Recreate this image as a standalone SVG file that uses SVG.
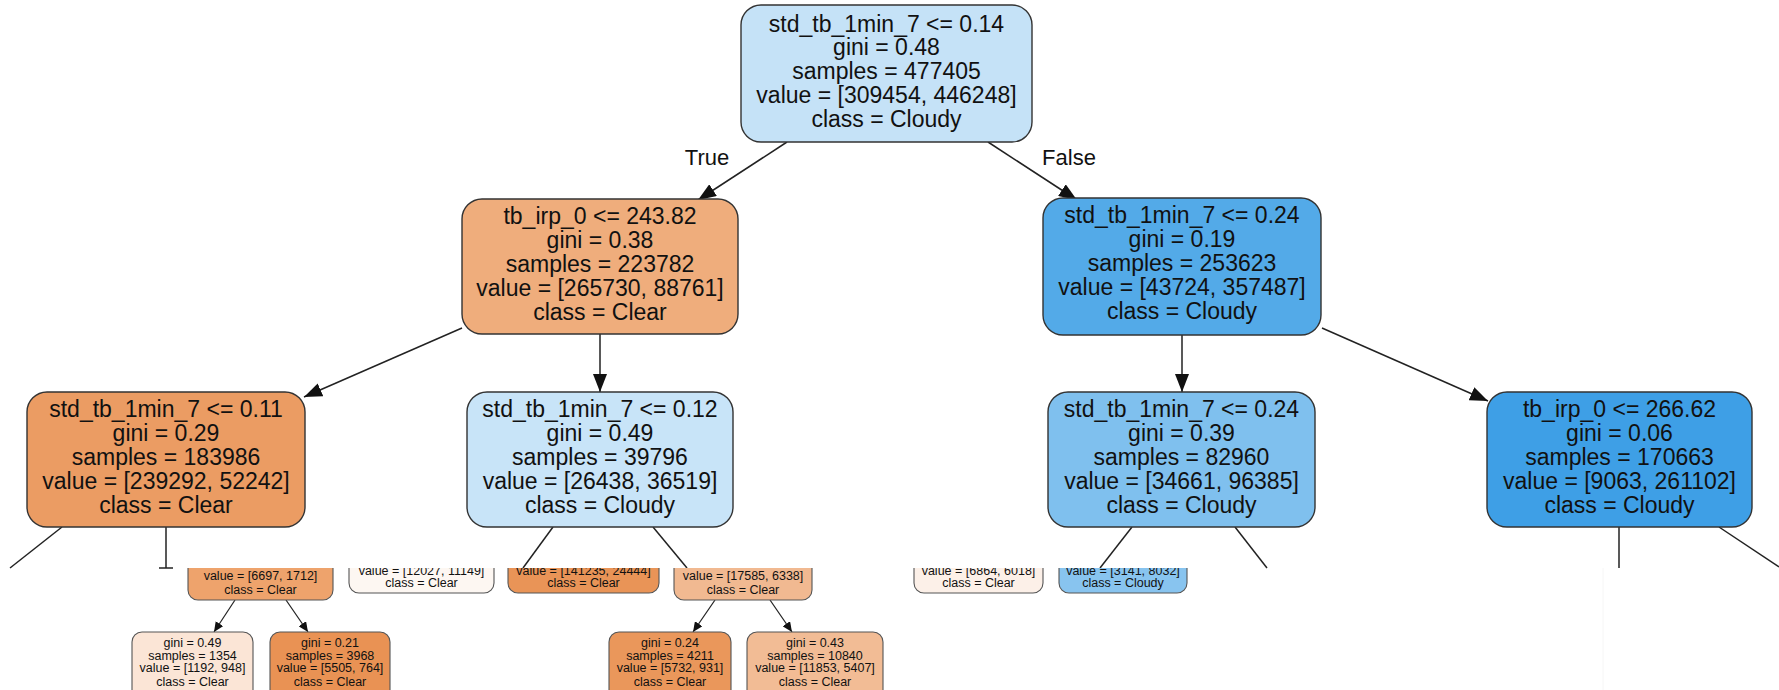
<svg xmlns="http://www.w3.org/2000/svg" width="1779" height="690" viewBox="0 0 1779 690">
<style>
  .n rect{stroke:#333;stroke-width:1.4}
  .s rect{stroke:#555;stroke-width:1.1}
  text{font-family:"Liberation Sans",Arial,sans-serif;text-anchor:middle;fill:#111}
  .n text{font-size:23px}
  .s text{font-size:12.5px}
  .lbl{font-size:22px}
  .e line{stroke:#222;stroke-width:1.5}
  .e .sm{stroke-width:1.2}
</style>
<defs>
  <marker id="ab" markerUnits="userSpaceOnUse" markerWidth="19" markerHeight="14" refX="18" refY="7" orient="auto">
    <path d="M0,0 L18,7 L0,14 z" fill="#111"/>
  </marker>
  <marker id="as" markerUnits="userSpaceOnUse" markerWidth="11" markerHeight="9" refX="10" refY="4.5" orient="auto">
    <path d="M0,0 L10,4.5 L0,9 z" fill="#111"/>
  </marker>
  <clipPath id="cut"><rect x="0" y="568" width="1779" height="122"/></clipPath>
</defs>
<rect width="1779" height="690" fill="#fff"/>

<g class="e" id="edges">
  <line x1="787" y1="142" x2="698" y2="200" marker-end="url(#ab)"/>
  <line x1="988" y1="142" x2="1077" y2="200" marker-end="url(#ab)"/>
  <line x1="462" y1="328" x2="304" y2="397" marker-end="url(#ab)"/>
  <line x1="600" y1="334" x2="600" y2="392" marker-end="url(#ab)"/>
  <line x1="1182" y1="335" x2="1182" y2="392" marker-end="url(#ab)"/>
  <line x1="1322" y1="328" x2="1488" y2="401" marker-end="url(#ab)"/>
  <line x1="62" y1="527" x2="10" y2="568"/>
  <line x1="166" y1="527" x2="166" y2="568"/>
  <line x1="159" y1="568" x2="173" y2="568"/>
  <line x1="553" y1="527" x2="523" y2="568"/>
  <line x1="653" y1="527" x2="687" y2="568"/>
  <line x1="1132" y1="527" x2="1100" y2="568"/>
  <line x1="1235" y1="527" x2="1267" y2="568"/>
  <line x1="1619" y1="527" x2="1619" y2="568"/>
  <line x1="1719" y1="527" x2="1779" y2="567"/>
  <line class="sm" x1="235" y1="600" x2="214" y2="632" marker-end="url(#as)"/>
  <line class="sm" x1="286" y1="600" x2="308" y2="632" marker-end="url(#as)"/>
  <line class="sm" x1="715" y1="600" x2="693" y2="632" marker-end="url(#as)"/>
  <line class="sm" x1="770" y1="600" x2="792" y2="632" marker-end="url(#as)"/>
  <line x1="1603" y1="568" x2="1603" y2="690" style="stroke:#f6f6f6;stroke-width:1"/>
  <text class="lbl" x="707" y="165">True</text>
  <text class="lbl" x="1069" y="165">False</text>
</g>

<g class="n" id="node0">
  <rect x="741" y="5" width="291" height="137" rx="20" fill="#c5e2f7"/>
  <text x="886.5" y="32">std_tb_1min_7 &lt;= 0.14</text>
  <text x="886.5" y="55">gini = 0.48</text>
  <text x="886.5" y="79">samples = 477405</text>
  <text x="886.5" y="103">value = [309454, 446248]</text>
  <text x="886.5" y="127">class = Cloudy</text>
</g>
<g class="n" id="node1">
  <rect x="462" y="199" width="276" height="135" rx="20" fill="#efad7c"/>
  <text x="600" y="224">tb_irp_0 &lt;= 243.82</text>
  <text x="600" y="248">gini = 0.38</text>
  <text x="600" y="272">samples = 223782</text>
  <text x="600" y="296">value = [265730, 88761]</text>
  <text x="600" y="320">class = Clear</text>
</g>
<g class="n" id="node2">
  <rect x="1043" y="198" width="278" height="137" rx="20" fill="#53aae8"/>
  <text x="1182" y="223">std_tb_1min_7 &lt;= 0.24</text>
  <text x="1182" y="247">gini = 0.19</text>
  <text x="1182" y="271">samples = 253623</text>
  <text x="1182" y="295">value = [43724, 357487]</text>
  <text x="1182" y="319">class = Cloudy</text>
</g>
<g class="n" id="node3">
  <rect x="27" y="392" width="278" height="135" rx="20" fill="#eb9c63"/>
  <text x="166" y="417">std_tb_1min_7 &lt;= 0.11</text>
  <text x="166" y="441">gini = 0.29</text>
  <text x="166" y="465">samples = 183986</text>
  <text x="166" y="489">value = [239292, 52242]</text>
  <text x="166" y="513">class = Clear</text>
</g>
<g class="n" id="node4">
  <rect x="467" y="392" width="266" height="135" rx="20" fill="#c8e4f8"/>
  <text x="600" y="417">std_tb_1min_7 &lt;= 0.12</text>
  <text x="600" y="441">gini = 0.49</text>
  <text x="600" y="465">samples = 39796</text>
  <text x="600" y="489">value = [26438, 36519]</text>
  <text x="600" y="513">class = Cloudy</text>
</g>
<g class="n" id="node5">
  <rect x="1048" y="392" width="267" height="135" rx="20" fill="#7fc0ee"/>
  <text x="1181.5" y="417">std_tb_1min_7 &lt;= 0.24</text>
  <text x="1181.5" y="441">gini = 0.39</text>
  <text x="1181.5" y="465">samples = 82960</text>
  <text x="1181.5" y="489">value = [34661, 96385]</text>
  <text x="1181.5" y="513">class = Cloudy</text>
</g>
<g class="n" id="node6">
  <rect x="1487" y="392" width="265" height="135" rx="20" fill="#3e9fe6"/>
  <text x="1619.5" y="417">tb_irp_0 &lt;= 266.62</text>
  <text x="1619.5" y="441">gini = 0.06</text>
  <text x="1619.5" y="465">samples = 170663</text>
  <text x="1619.5" y="489">value = [9063, 261102]</text>
  <text x="1619.5" y="513">class = Cloudy</text>
</g>

<g class="s" id="nodeA" clip-path="url(#cut)">
  <rect x="188" y="530" width="145" height="70" rx="10" fill="#eea36c"/>
  <text x="260.5" y="580">value = [6697, 1712]</text>
  <text x="260.5" y="593.5">class = Clear</text>
</g>
<g class="s" id="nodeB" clip-path="url(#cut)">
  <rect x="349" y="530" width="145" height="63" rx="10" fill="#fdf7f2"/>
  <text x="421.5" y="574.5">value = [12027, 11149]</text>
  <text x="421.5" y="587">class = Clear</text>
</g>
<g class="s" id="nodeC" clip-path="url(#cut)">
  <rect x="508" y="530" width="151" height="63" rx="10" fill="#e99457"/>
  <text x="583.5" y="574.5">value = [141235, 24444]</text>
  <text x="583.5" y="587">class = Clear</text>
</g>
<g class="s" id="nodeD" clip-path="url(#cut)">
  <rect x="674" y="530" width="138" height="70" rx="10" fill="#f1b991"/>
  <text x="743" y="580">value = [17585, 6338]</text>
  <text x="743" y="593.5">class = Clear</text>
</g>
<g class="s" id="nodeE" clip-path="url(#cut)">
  <rect x="914" y="530" width="129" height="63" rx="10" fill="#fcf0e8"/>
  <text x="978.5" y="574.5">value = [6864, 6018]</text>
  <text x="978.5" y="587">class = Clear</text>
</g>
<g class="s" id="nodeF" clip-path="url(#cut)">
  <rect x="1059" y="530" width="128" height="63" rx="10" fill="#88c4ef"/>
  <text x="1123" y="574.5">value = [3141, 8032]</text>
  <text x="1123" y="587">class = Cloudy</text>
</g>

<g class="s" id="leaf1">
  <rect x="132" y="632" width="121" height="70" rx="10" fill="#fbe5d6"/>
  <text x="192.5" y="646.5">gini = 0.49</text>
  <text x="192.5" y="659.5">samples = 1354</text>
  <text x="192.5" y="672">value = [1192, 948]</text>
  <text x="192.5" y="685.5">class = Clear</text>
</g>
<g class="s" id="leaf2">
  <rect x="270" y="632" width="120" height="70" rx="10" fill="#e99254"/>
  <text x="330" y="646.5">gini = 0.21</text>
  <text x="330" y="659.5">samples = 3968</text>
  <text x="330" y="672">value = [5505, 764]</text>
  <text x="330" y="685.5">class = Clear</text>
</g>
<g class="s" id="leaf3">
  <rect x="609" y="632" width="122" height="70" rx="10" fill="#ea975b"/>
  <text x="670" y="646.5">gini = 0.24</text>
  <text x="670" y="659.5">samples = 4211</text>
  <text x="670" y="672">value = [5732, 931]</text>
  <text x="670" y="685.5">class = Clear</text>
</g>
<g class="s" id="leaf4">
  <rect x="747" y="632" width="136" height="70" rx="10" fill="#f2bc95"/>
  <text x="815" y="646.5">gini = 0.43</text>
  <text x="815" y="659.5">samples = 10840</text>
  <text x="815" y="672">value = [11853, 5407]</text>
  <text x="815" y="685.5">class = Clear</text>
</g>
</svg>
